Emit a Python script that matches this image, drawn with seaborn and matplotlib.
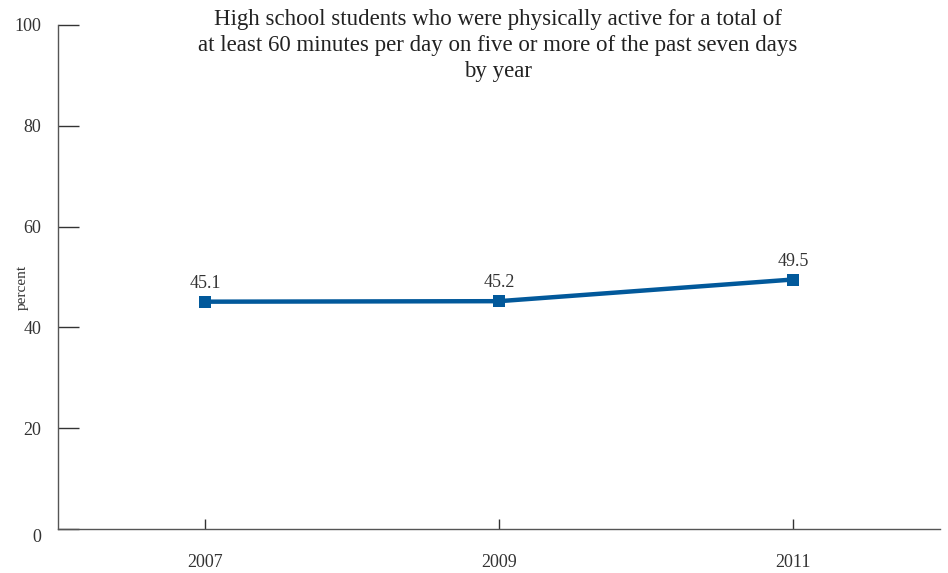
import pandas as pd
import matplotlib.pyplot as plt
import seaborn as sns

# values
years = [2007, 2009, 2011]
percent = [45.1, 45.2, 49.5]
y_ticks = [0, 20, 40, 60, 80, 100]

sns.set_theme(style="white")
plt.rcParams['font.family'] = ['Liberation Serif', 'DejaVu Serif']

df = pd.DataFrame({"year": years, "percent": percent})

fig = plt.figure(figsize=(9.48, 5.73), dpi=100)
ax = fig.add_axes([0.0612, 0.0768, 0.9304, 0.8796])

sns.lineplot(data=df, x="year", y="percent", ax=ax, color="#02599b",
             linewidth=3.2, marker="s", markersize=9, markeredgewidth=0)

for x, y in zip(years, percent):
    ax.annotate(f"{y}", (x, y), xytext=(0, 7), textcoords="offset points",
                ha="center", va="bottom", fontsize=13, color="#333333")

ax.set_xlim(2006.0, 2012.0)
ax.set_ylim(0, 100)
ax.set_xticks(years)
ax.set_xticklabels([str(y) for y in years])
ax.set_yticks(y_ticks)
ax.set_yticklabels([str(t) for t in y_ticks])

for s in ["top", "right"]:
    ax.spines[s].set_visible(False)
for s in ["left", "bottom"]:
    ax.spines[s].set_color("#555555")
    ax.spines[s].set_linewidth(1.0)

ax.tick_params(axis="y", direction="in", length=15, width=1, color="#333333",
               labelsize=13, labelcolor="#333333", pad=12, left=True)
ax.tick_params(axis="x", direction="in", length=7, width=1, color="#333333",
               labelsize=13, labelcolor="#333333", pad=18, bottom=True)
# the zero label sits a little lower in the reference
ax.get_yticklabels()[0].set_va("top")

ax.set_xlabel("")
ax.set_ylabel("percent", fontsize=11, color="#333333")
ax.yaxis.set_label_coords(-0.033, 0.48)
ax.grid(False)

fig.text(0.525, 0.984,
         "High school students who were physically active for a total of\n"
         "at least 60 minutes per day on five or more of the past seven days\n"
         "by year",
         ha="center", va="top", fontsize=16.5, color="#222222", linespacing=1.3)

fig.savefig("out.png", dpi=100)
